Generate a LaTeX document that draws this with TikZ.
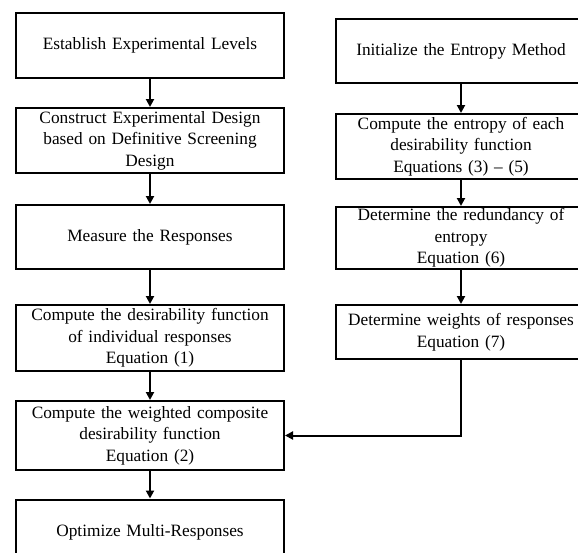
\documentclass[tikz,border=0pt]{standalone}
\usepackage{fontspec}
\setmainfont{Liberation Serif}
\usetikzlibrary{arrows.meta}
\begin{document}
\begin{tikzpicture}[x=1pt, y=-1pt,
		stepbox/.style={draw, line width=2pt, align=center, inner sep=0pt, font=\fontsize{17.3}{21.5}\selectfont},
		leftbox/.style={stepbox, minimum width=268pt, text width=262pt},
		rightbox/.style={stepbox, minimum width=250pt, text width=244pt},
		flow/.style={line width=2pt, -{Triangle[length=8pt, width=8pt]}}]
			\useasboundingbox (0,0) rectangle (578,552);
			\clip (0,0) rectangle (578,552);
			% Define nodes
			\node[leftbox, minimum height=65pt] (levels) at (150,45) {Establish Experimental Levels}; % Left column
			\node[leftbox, minimum height=65pt] (design) at (150,140.5) {Construct Experimental Design\\ based on Definitive Screening\\ Design};
			\node[leftbox, minimum height=64pt] (measure) at (150,237) {Measure the Responses};
			\node[leftbox, minimum height=66pt] (desir) at (150,338) {Compute the desirability function\\ of individual responses\\ Equation (1)};
			\node[leftbox, minimum height=69pt] (composite) at (150,435.5) {Compute the weighted composite\\ desirability function\\ Equation (2)};
			\node[leftbox, minimum height=65pt] (optimize) at (150,532) {Optimize Multi-Responses};
			\node[rightbox, minimum height=64pt] (init) at (461,51) {Initialize the Entropy Method}; % Right column
			\node[rightbox, minimum height=65pt] (entropy) at (461,146.5) {Compute the entropy of each\\ desirability function\\ Equations (3) -- (5)};
			\node[rightbox, minimum height=62pt] (redund) at (461,238) {Determine the redundancy of\\ entropy\\ Equation (6)};
			\node[rightbox, minimum height=54pt] (weights) at (461,332) {Determine weights of responses\\ Equation (7)};
			
			% Connect nodes
			\draw[flow] (levels) -- (design);
			\draw[flow] (design) -- (measure);
			\draw[flow] (measure) -- (desir);
			\draw[flow] (desir) -- (composite);
			\draw[flow] (composite) -- (optimize);
			\draw[flow] (init) -- (entropy);
			\draw[flow] (entropy) -- (redund);
			\draw[flow] (redund) -- (weights);
			\draw[flow] (weights.south) |- (composite.east);
		\end{tikzpicture}
\end{document}
